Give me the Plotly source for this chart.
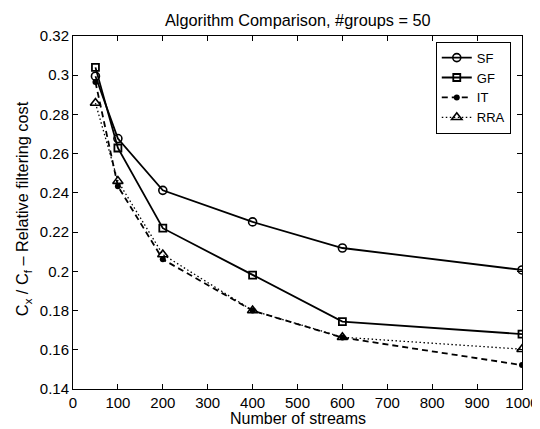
import plotly.graph_objects as go

streams = [50, 100, 200, 400, 600, 1000]
sf = [0.2995, 0.2677, 0.2413, 0.2252, 0.2119, 0.2007]
gf = [0.3040, 0.2629, 0.2220, 0.1981, 0.1744, 0.1680]
it = [0.2965, 0.2434, 0.2061, 0.1800, 0.1662, 0.1522]
rra = [0.2858, 0.2460, 0.2086, 0.1800, 0.1664, 0.1603]

x_ticks = list(range(0, 1001, 100))
y_ticks = [0.14, 0.16, 0.18, 0.2, 0.22, 0.24, 0.26, 0.28, 0.3, 0.32]
y_tick_text = ["0.14", "0.16", "0.18", "0.2", "0.22", "0.24", "0.26", "0.28", "0.3", "0.32"]

FONT = "Liberation Sans, Arial, sans-serif"

fig = go.Figure()
fig.add_trace(go.Scatter(x=streams, y=sf, name="SF", mode="lines+markers",
                         line=dict(color="black", width=1.8),
                         marker=dict(symbol="circle-open", size=8, color="black",
                                     line=dict(width=1.6, color="black"))))
fig.add_trace(go.Scatter(x=streams, y=gf, name="GF", mode="lines+markers",
                         line=dict(color="black", width=1.8),
                         marker=dict(symbol="square-open", size=7, color="black",
                                     line=dict(width=1.8, color="black"))))
fig.add_trace(go.Scatter(x=streams, y=it, name="IT", mode="lines+markers",
                         line=dict(color="black", width=1.8, dash="6px,4px"),
                         marker=dict(symbol="circle", size=6, color="black")))
fig.add_trace(go.Scatter(x=streams, y=rra, name="RRA", mode="lines+markers",
                         line=dict(color="black", width=1.3, dash="1.5px,2.5px"),
                         marker=dict(symbol="triangle-up-open", size=9, color="black",
                                     line=dict(width=1.6, color="black"))))

# page body has an 8px margin: figure is 532x421 so that it fills the 540x429 window
fig.update_layout(
    width=532, height=421,
    margin=dict(l=65, r=18, t=27.5, b=40, autoexpand=False),
    paper_bgcolor="white", plot_bgcolor="white",
    font=dict(family=FONT, size=15, color="black"),
    showlegend=True,
    legend=dict(x=0.975, y=0.984, xanchor="right", yanchor="top",
                bgcolor="white", bordercolor="black", borderwidth=1,
                font=dict(size=13, family=FONT), tracegroupgap=0),
    annotations=[
        dict(text="Algorithm Comparison, #groups = 50", xref="paper", yref="paper",
             x=0.5, y=1.0467, xanchor="center", yanchor="middle", showarrow=False,
             font=dict(size=16.3, family=FONT, color="black")),
        dict(text="C<sub>x</sub> / C<sub>f</sub> – Relative filtering cost",
             xref="paper", yref="paper", x=-0.111, y=0.51, xanchor="center",
             yanchor="middle", textangle=-90, showarrow=False,
             font=dict(size=16.3, family=FONT, color="black")),
        dict(text="Number of streams", xref="paper", yref="paper",
             x=0.5, y=-0.054, xanchor="center", yanchor="top", showarrow=False,
             font=dict(size=16, family=FONT, color="black")),
    ],
)
fig.update_xaxes(range=[0, 1000], tickvals=x_ticks, ticks="inside", ticklen=5,
                 showline=True, linecolor="black", linewidth=1, mirror="ticks",
                 showgrid=False, zeroline=False, tickcolor="black",
                 automargin=False, tickfont=dict(size=15))
fig.update_yaxes(range=[0.14, 0.32], tickvals=y_ticks, ticktext=y_tick_text,
                 ticks="inside", ticklen=5,
                 showline=True, linecolor="black", linewidth=1, mirror="ticks",
                 showgrid=False, zeroline=False, tickcolor="black",
                 automargin=False, tickfont=dict(size=15))

fig.write_html("out.html")
